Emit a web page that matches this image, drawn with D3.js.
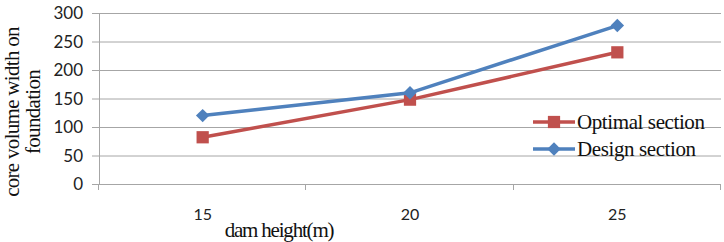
<!DOCTYPE html>
<html>
<head>
<meta charset="utf-8">
<script src="https://cdn.jsdelivr.net/npm/d3@7"></script>
<style>
  body { margin: 0; background: #fff; }
  svg { display: block; }
</style>
</head>
<body>
<div id="chart"></div>
<script>
// data
const heights = ["15", "20", "25"];
const optimal = [82, 148, 231];
const design = [120, 160, 278];
const yTicks = [0, 50, 100, 150, 200, 250, 300];

const width = 724, height = 242;
const plotLeft = 99, plotRight = 721, plotTop = 13, plotBottom = 184;

const svg = d3.select("#chart")
    .append("svg")
    .attr("width", width)
    .attr("height", height);

const x = d3.scaleBand().domain(heights).range([plotLeft, plotRight]);
const y = d3.scaleLinear().domain([0, 300]).range([plotBottom, plotTop]);

// gridlines
svg.append("g")
    .selectAll("line")
    .data(yTicks)
    .enter()
    .append("line")
    .attr("x1", plotLeft - 7)
    .attr("x2", plotRight)
    .attr("y1", (d) => y(d) + 0.5)
    .attr("y2", (d) => y(d) + 0.5)
    .attr("stroke", "#a6a6a6")
    .attr("stroke-width", 1);

// y axis line
svg.append("line")
    .attr("x1", plotLeft + 0.5).attr("x2", plotLeft + 0.5)
    .attr("y1", plotTop).attr("y2", plotBottom + 1)
    .attr("stroke", "#a6a6a6");

// y tick labels
svg.append("g")
    .selectAll("text")
    .data(yTicks)
    .enter()
    .append("text")
    .attr("x", plotLeft - 16)
    .attr("y", (d) => y(d) + 6)
    .attr("text-anchor", "end")
    .attr("font-family", "Lato, 'Liberation Sans', sans-serif")
    .attr("font-size", 17)
    .attr("fill", "#222")
    .text((d) => d);

// x axis ticks at band edges
const edges = heights.map((d) => x(d)).concat([plotRight]);
svg.append("g")
    .selectAll("line")
    .data(edges)
    .enter()
    .append("line")
    .attr("x1", (d) => Math.round(d) - 0.5)
    .attr("x2", (d) => Math.round(d) - 0.5)
    .attr("y1", plotBottom)
    .attr("y2", plotBottom + 6)
    .attr("stroke", "#a6a6a6");

// x tick labels
svg.append("g")
    .selectAll("text")
    .data(heights)
    .enter()
    .append("text")
    .attr("x", (d) => x(d) + x.bandwidth() / 2)
    .attr("y", 220)
    .attr("text-anchor", "middle")
    .attr("font-family", "Lato, 'Liberation Sans', sans-serif")
    .attr("font-size", 16)
    .attr("fill", "#222")
    .text((d) => d);

// axis titles
svg.append("text")
    .attr("x", 279)
    .attr("y", 237)
    .attr("text-anchor", "middle")
    .attr("font-family", "'Liberation Serif', serif")
    .attr("font-size", 21)
    .attr("letter-spacing", -1.2)
    .attr("fill", "#111")
    .text("dam height(m)");

const yTitle = svg.append("text")
    .attr("transform", "translate(0,112) rotate(-90)")
    .attr("text-anchor", "middle")
    .attr("font-family", "'Liberation Serif', serif")
    .attr("font-size", 21)
    .attr("letter-spacing", -0.7)
    .attr("fill", "#111");
yTitle.append("tspan").attr("x", 0).attr("y", 19).text("core volume width on");
yTitle.append("tspan").attr("x", 0).attr("y", 40).text("foundation");

// series
const series = [
    { name: "Optimal section", values: optimal, color: "#c0504d", shape: d3.symbolSquare, size: 150, rot: 0 },
    { name: "Design section", values: design, color: "#4f81bd", shape: d3.symbolSquare, size: 90, rot: 45 },
];

const line = d3.line()
    .x((d, i) => x(heights[i]) + x.bandwidth() / 2)
    .y((d) => y(d));

series.forEach(function (s) {
    svg.append("path")
        .datum(s.values)
        .attr("d", line)
        .attr("fill", "none")
        .attr("stroke", s.color)
        .attr("stroke-width", 3.5);

    svg.append("g")
        .selectAll("path")
        .data(s.values)
        .enter()
        .append("path")
        .attr("d", d3.symbol().type(s.shape).size(s.size))
        .attr("transform", (d, i) => "translate(" + (x(heights[i]) + x.bandwidth() / 2) + "," + y(d) + ") rotate(" + s.rot + ")")
        .attr("fill", s.color);
});

// legend
const legend = svg.append("g")
    .selectAll("g")
    .data(series)
    .enter()
    .append("g")
    .attr("transform", (d, i) => "translate(533," + (122 + i * 27) + ")");

legend.append("line")
    .attr("x1", 0).attr("x2", 42)
    .attr("stroke", (d) => d.color)
    .attr("stroke-width", 3.5);

legend.append("path")
    .attr("d", (d) => d3.symbol().type(d.shape).size(d.size)())
    .attr("transform", (d) => "translate(21,0) rotate(" + d.rot + ")")
    .attr("fill", (d) => d.color);

legend.append("text")
    .attr("x", 44)
    .attr("y", 7)
    .attr("font-family", "'Liberation Serif', serif")
    .attr("font-size", 21)
    .attr("letter-spacing", -0.4)
    .attr("fill", "#111")
    .text((d) => d.name);
</script>
</body>
</html>
